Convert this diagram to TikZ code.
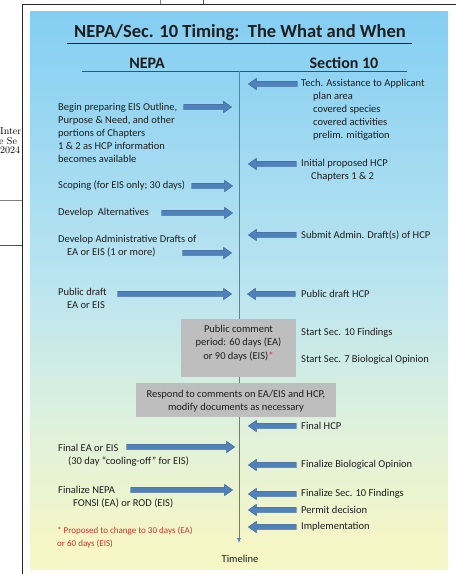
\documentclass[tikz,border=0pt]{standalone}
\usepackage{fontspec}
\newfontfamily\carlito{Carlito}
\usetikzlibrary{shapes.arrows,arrows.meta}
\definecolor{arrfill}{RGB}{79,129,189}
\definecolor{arrdraw}{RGB}{56,93,138}
\definecolor{tlcol}{RGB}{84,128,186}
\definecolor{skyA}{RGB}{92,190,242}
\definecolor{skyB}{RGB}{132,206,242}
\definecolor{skyC}{RGB}{188,229,240}
\definecolor{midG}{RGB}{222,241,220}
\definecolor{paleY}{RGB}{246,246,198}
\definecolor{paleZ}{RGB}{251,248,190}
\definecolor{boxgray}{RGB}{190,190,190}
\definecolor{txt}{RGB}{30,30,30}
\definecolor{notecol}{RGB}{210,50,45}
\definecolor{rulecol}{RGB}{60,80,110}
\definecolor{greenline}{RGB}{30,110,60}
\pgfdeclareverticalshading{slidebg}{100bp}{color(0bp)=(paleZ); color(27bp)=(paleY); color(38bp)=(midG); color(50bp)=(skyC); color(75bp)=(skyB); color(100bp)=(skyA)}
\begin{document}
\begin{tikzpicture}[x=1pt,y=-1pt,
  body/.style={font=\carlito\fontsize{10.5}{13}\selectfont, text=txt, inner sep=0pt, align=left, anchor=west},
  notetext/.style={font=\carlito\fontsize{9}{13}\selectfont, text=notecol, inner sep=0pt, align=left, anchor=west},
  header/.style={font=\carlito\bfseries\fontsize{16}{19}\selectfont, text=txt, inner sep=0pt},
  titletext/.style={font=\carlito\bfseries\fontsize{18.5}{22}\selectfont, text=txt, inner sep=0pt},
  graybox/.style={fill=boxgray, draw=none, inner sep=0pt},
  boxtext/.style={font=\carlito\fontsize{10.5}{13.5}\selectfont, text=txt, inner sep=0pt, align=center},
  rarr/.style={single arrow, fill=arrfill, draw=arrdraw, line width=0.35pt, minimum height=#1, inner sep=2.5pt, single arrow head extend=3pt, single arrow tip angle=70, anchor=tip},
  larr/.style={rarr=#1, shape border rotate=180},
  timeline/.style={draw=tlcol, line width=0.9pt, -{Latex[length=5pt,width=4pt]}},
  frag/.style={font=\fontsize{10}{10}\selectfont, inner sep=0pt, anchor=west}
]
\useasboundingbox (0,0) rectangle (456,574);
\fill[white] (0,0) rectangle (456,574);
% surrounding page fragments
\draw[black!85, line width=0.9pt] (22,574) -- (22,4) -- (456,4);
\draw[gray, line width=0.8pt] (160,0) -- (160,4);
\draw[greenline, line width=0.8pt] (203,0) -- (203,4);
\draw[gray, line width=0.8pt] (0,200) -- (22,200);
\draw[greenline, line width=0.8pt] (0,245) -- (22,245);
\begin{scope}
\clip (0,120) rectangle (21.5,160);
\node[frag] (f1) at (0,131) {Inter};
\node[frag] (f2) at (-1,141) {e Se};
\node[frag] (f3) at (0,150) {2024};
\end{scope}
% slide background
\shade[shading=slidebg] (30,11) rectangle (448,569);
% title and headers
\node[titletext] (title) at (240,33) {NEPA/Sec. 10 Timing:\ \ The What and When};
\draw[txt, line width=0.8pt] (67,43) -- (412,43);
\node[header] (hnepa) at (147,63) {NEPA};
\node[header] (hsec) at (344,63) {Section 10};
\draw[rulecol, line width=0.8pt] (82,71) -- (407,71);
% timeline
\coordinate (tltop) at (239,71);
\coordinate (tlbot) at (239,543);
\draw[timeline] (tltop) -- (tlbot);
\node[body, anchor=center] (tltext) at (240,559) {Timeline};
% gray boxes
\node[graybox, minimum width=115pt, minimum height=58pt] (pcbox) at (238.5,348) {};
\node[boxtext] (pctext) at (238.5,343) {Public comment\\period: 60 days (EA)\\or 90 days (EIS){\color{notecol}*}};
\node[graybox, minimum width=200pt, minimum height=34pt] (rcbox) at (236,400) {};
\node[boxtext] (rctext) at (236,401) {Respond to comments on EA/EIS and HCP,\\modify documents as necessary};
% NEPA column
\node[body] (n1) at (58,133) {Begin preparing EIS Outline,\\Purpose \& Need, and other\\portions of Chapters\\1 \& 2 as HCP information\\becomes available};
\node[rarr=48pt] (a1) at (232,107) {};
\node[body] (n2) at (58,186) {Scoping (for EIS only; 30 days)};
\node[rarr=41pt] (a2) at (233,186) {};
\node[body] (n3) at (58,213) {Develop\ \ Alternatives};
\node[rarr=71pt] (a3) at (233,213) {};
\node[body] (n4) at (58,246) {Develop Administrative Drafts of\\\hspace*{9pt}EA or EIS (1 or more)};
\node[rarr=49pt] (a4) at (232,253) {};
\node[body] (n5) at (58,298.5) {Public draft\\\hspace*{9pt}EA or EIS};
\node[rarr=114pt] (a5) at (232,294) {};
\node[body] (n6) at (58,455.5) {Final EA or EIS\\\hspace*{10pt}(30 day “cooling-off” for EIS)};
\node[rarr=108pt] (a6) at (235,447) {};
\node[body] (n7) at (58,497) {Finalize NEPA\\\hspace*{15pt}FONSI (EA) or ROD (EIS)};
\node[rarr=102pt] (a7) at (233,490) {};
\node[notetext] (note) at (57,537.5) {* Proposed to change to 30 days (EA)\\or 60 days (EIS)};
% Section 10 column
\node[larr=49pt] (b1) at (248,84) {};
\node[body] (s1) at (301,109.5) {Tech. Assistance to Applicant\\\hspace*{12pt}plan area\\\hspace*{12pt}covered species\\\hspace*{12pt}covered activities\\\hspace*{12pt}prelim. mitigation};
\node[larr=48pt] (b2) at (248,164) {};
\node[body] (s2) at (301,170) {Initial proposed HCP\\\hspace*{10pt}Chapters 1 \& 2};
\node[larr=48pt] (b3) at (248,235) {};
\node[body] (s3) at (301,235) {Submit Admin. Draft(s) of HCP};
\node[larr=48pt] (b4) at (247,294) {};
\node[body] (s4) at (301,294) {Public draft HCP};
\node[body] (s5) at (301,333) {Start Sec. 10 Findings};
\node[body] (s6) at (301,360) {Start Sec. 7 Biological Opinion};
\node[larr=48pt] (b7) at (248,426) {};
\node[body] (s7) at (301,426) {Final HCP};
\node[larr=48pt] (b8) at (248,465) {};
\node[body] (s8) at (301,465) {Finalize Biological Opinion};
\node[larr=48pt] (b9) at (248,494) {};
\node[body] (s9) at (301,494) {Finalize Sec. 10 Findings};
\node[larr=48pt] (b10) at (248,510) {};
\node[body] (s10) at (301,510) {Permit decision};
\node[larr=48pt] (b11) at (248,527) {};
\node[body] (s11) at (301,527) {Implementation};
\end{tikzpicture}
\end{document}
